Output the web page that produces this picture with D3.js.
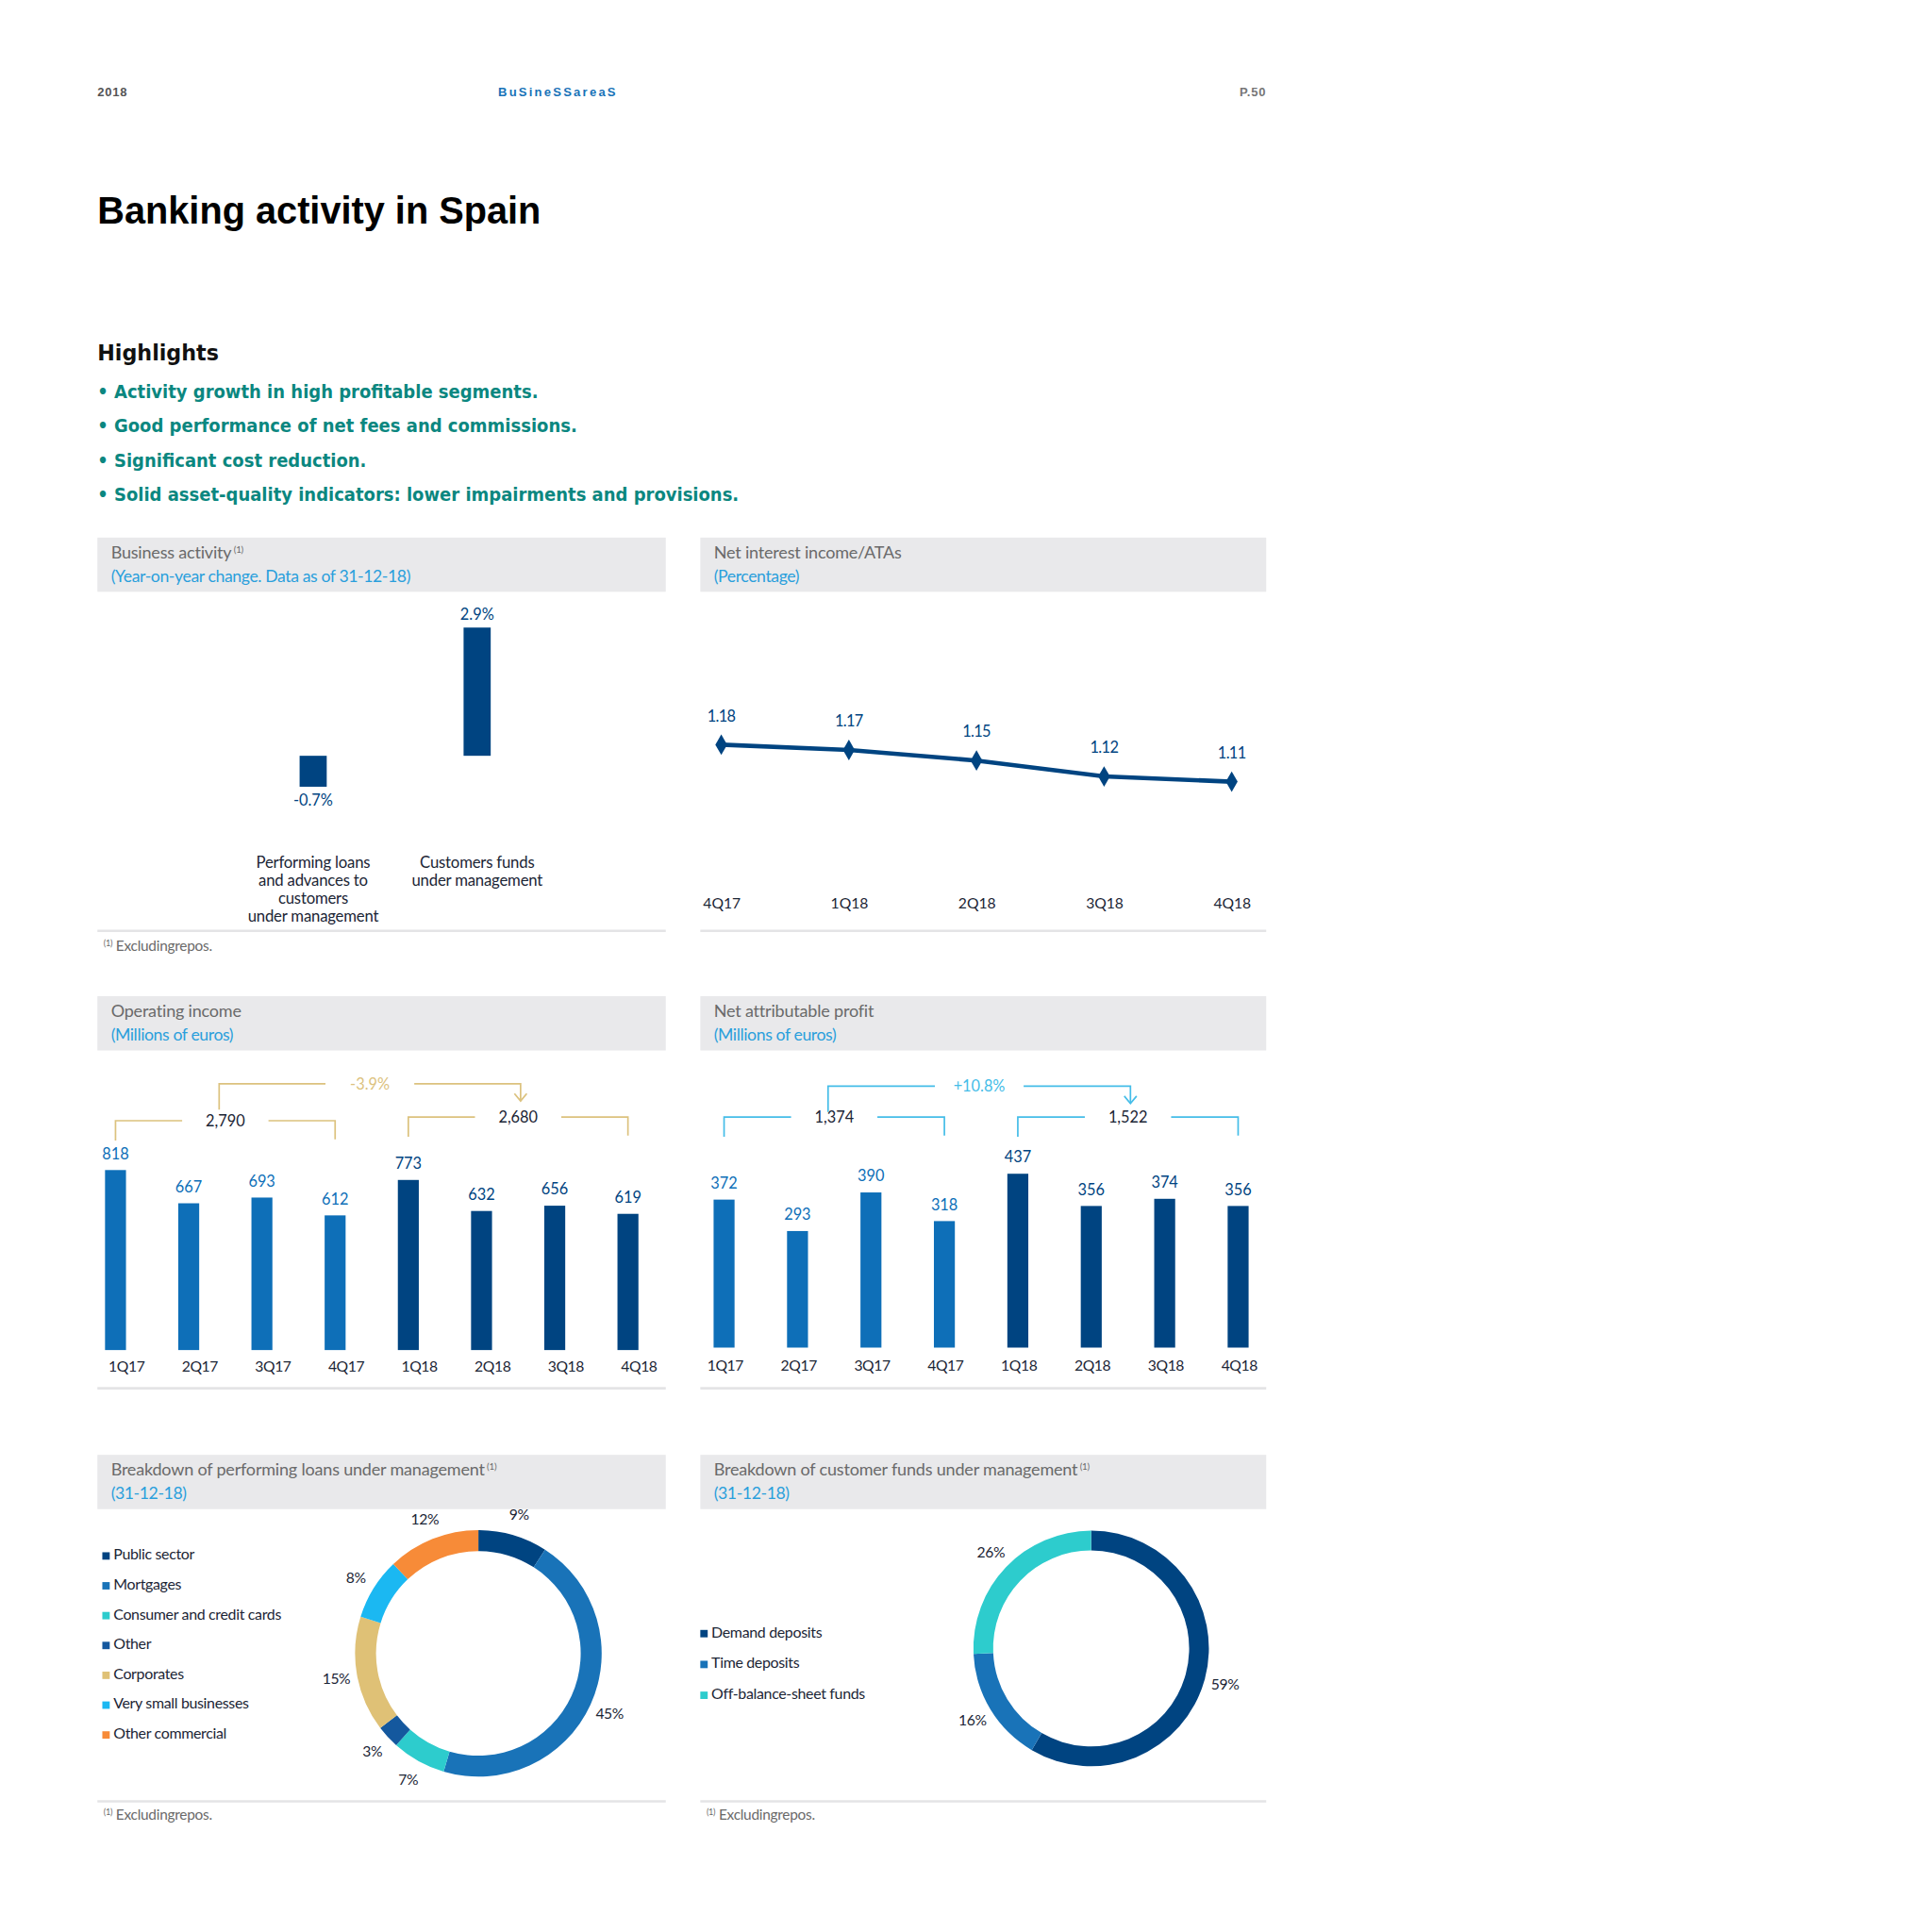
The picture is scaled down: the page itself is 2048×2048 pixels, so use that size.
<!DOCTYPE html>
<html>
<head>
<meta charset="utf-8">
<script src="https://cdn.jsdelivr.net/npm/d3@7"></script>
<style>
  body { margin: 0; background: #fff; overflow: hidden; }
  svg { display: block; }
</style>
</head>
<body>
<script>
// ---- data ----
const highlights = [
  'Activity growth in high profitable segments.',
  'Good performance of net fees and commissions.',
  'Significant cost reduction.',
  'Solid asset-quality indicators: lower impairments and provisions.'
];

const activityLabels = [
  ['Performing loans', 'and advances to', 'customers', 'under management'],
  ['Customers funds', 'under management']
];
const activityValues = [-0.7, 2.9];

const niiQuarters = ['4Q17', '1Q18', '2Q18', '3Q18', '4Q18'];
const niiValues = [1.18, 1.17, 1.15, 1.12, 1.11];

const barQuarters = ['1Q17', '2Q17', '3Q17', '4Q17', '1Q18', '2Q18', '3Q18', '4Q18'];
const operatingIncome = [818, 667, 693, 612, 773, 632, 656, 619];
const operatingTotals = ['2,790', '2,680'];
const operatingChange = '-3.9%';
const netProfit = [372, 293, 390, 318, 437, 356, 374, 356];
const profitTotals = ['1,374', '1,522'];
const profitChange = '+10.8%';

const loanCategories = ['Public sector', 'Mortgages', 'Consumer and credit cards', 'Other',
                        'Corporates', 'Very small businesses', 'Other commercial'];
const loanShares = [9, 45, 7, 3, 15, 8, 12];
const fundCategories = ['Demand deposits', 'Time deposits', 'Off-balance-sheet funds'];
const fundShares = [59, 16, 26];

// ---- styles ----
const NAVY = '#004481';
const MIDBLUE = '#0e6fb8';
const SKY = '#2a9fdc';
const GOLD = '#dcc27e';
const CYAN = '#45bde8';
const TEXT = '#1b2535';
const GREY = '#6a6a6a';
const SANS = 'Lato, "Open Sans", sans-serif';
const loanColors = [NAVY, '#1973b8', '#2dcccd', '#14589e', '#dfc176', '#1bb8f2', '#f78b38'];
const fundColors = [NAVY, '#1973b8', '#2dcccd'];

// layout is worked out on a 1567-unit page, then scaled to the 2048px window
const PAGE = 1567;
const LEFT = {x: 79, w: 461};
const RIGHT = {x: 568, w: 459};

const svg = d3.select('body')
              .append('svg')
              .attr('width', 2048)
              .attr('height', 2048)
              .attr('viewBox', `0 0 ${PAGE} ${PAGE}`)
              .style('font-family', SANS);

// ---- page header ----
svg.append('text').attr('x', 79).attr('y', 78)
   .attr('font-family', '"Liberation Sans", Arial, sans-serif').attr('font-weight', 'bold')
   .attr('font-size', 10).attr('fill', '#555').attr('letter-spacing', 0.6).text('2018');
svg.append('text').attr('x', 404).attr('y', 78)
   .attr('font-family', '"Liberation Sans", Arial, sans-serif').attr('font-weight', 'bold')
   .attr('font-size', 10).attr('fill', '#1973b8').attr('letter-spacing', 1.7).text('BuSineSSareaS');
svg.append('text').attr('x', 1027).attr('y', 78).attr('text-anchor', 'end')
   .attr('font-family', '"Liberation Sans", Arial, sans-serif').attr('font-weight', 'bold')
   .attr('font-size', 10).attr('fill', '#777').attr('letter-spacing', 0.6).text('P.50');

svg.append('text').attr('x', 79).attr('y', 181)
   .attr('font-family', '"Liberation Sans", Arial, sans-serif').attr('font-weight', 'bold')
   .attr('font-size', 30.4).attr('fill', '#000').text('Banking activity in Spain');

svg.append('text').attr('x', 79).attr('y', 292)
   .attr('font-family', '"DejaVu Sans", sans-serif').attr('font-weight', 'bold')
   .attr('font-size', 17).attr('fill', '#111').text('Highlights');

svg.selectAll('text.bullet')
   .data(highlights)
   .enter()
   .append('text')
   .attr('class', 'bullet')
   .attr('x', 79)
   .attr('y', (d, i) => 323 + i * 27.7)
   .attr('font-family', '"DejaVu Sans Condensed", "DejaVu Sans", sans-serif')
   .attr('font-stretch', 'condensed')
   .attr('font-weight', 'bold')
   .attr('font-size', 15.3)
   .attr('fill', '#0b8780')
   .text(d => '•  ' + d);

// ---- helpers ----
const panelHeader = (p, y, title, subtitle, sup) => {
  svg.append('rect').attr('x', p.x).attr('y', y).attr('width', p.w).attr('height', 44).attr('fill', '#e9e9eb');
  const t = svg.append('text').attr('x', p.x + 11).attr('y', y + 17)
               .attr('font-size', 13.8).attr('fill', GREY).attr('letter-spacing', -0.15);
  t.append('tspan').text(title);
  if (sup) t.append('tspan').attr('font-size', 7.5).attr('dy', -5).text(' (1)');
  svg.append('text').attr('x', p.x + 11).attr('y', y + 36)
     .attr('font-size', 13.5).attr('fill', SKY).attr('letter-spacing', -0.3).text(subtitle);
};

const panelRule = (p, y) => {
  svg.append('line').attr('x1', p.x).attr('x2', p.x + p.w).attr('y1', y).attr('y2', y)
     .attr('stroke', '#e4e4e6').attr('stroke-width', 2);
};

const footnote = (p, y) => {
  const t = svg.append('text').attr('x', p.x + 5).attr('y', y)
               .attr('font-size', 11.8).attr('fill', GREY).attr('letter-spacing', -0.2);
  t.append('tspan').attr('font-size', 7).attr('dy', -3.5).text('(1)');
  t.append('tspan').attr('dy', 3.5).text(' Excludingrepos.');
};

// bracket over a group of bars, with a gap in the middle for the label
const bracket = (x0, x1, y, drop0, drop1, label, lineColor, labelColor, gap, arrow) => {
  const mid = (x0 + x1) / 2;
  const g = svg.append('g').attr('fill', 'none').attr('stroke', lineColor).attr('stroke-width', 1.3);
  g.append('path').attr('d', d3.line()([[x0, y + drop0], [x0, y], [mid - gap, y]]));
  g.append('path').attr('d', d3.line()([[mid + gap, y], [x1, y], [x1, y + drop1]]));
  if (arrow) {
    g.append('path').attr('d', d3.line()([[x1 - 5, y + drop1 - 6], [x1, y + drop1], [x1 + 5, y + drop1 - 6]]));
  }
  svg.append('text').attr('x', mid).attr('y', y + 4.5).attr('text-anchor', 'middle')
     .attr('font-size', 12.5).attr('fill', labelColor).text(label);
};

// ---- Business activity ----
panelHeader(LEFT, 436, 'Business activity', '(Year-on-year change. Data as of 31-12-18)', true);

const actX = d3.scalePoint().domain(d3.range(activityValues.length)).range([254, 387]);
const actY = d3.scaleLinear().domain([0, 2.9]).range([613, 509]);

svg.append('g').selectAll('rect')
   .data(activityValues)
   .enter()
   .append('rect')
   .attr('x', (d, i) => actX(i) - 11)
   .attr('y', d => Math.min(actY(d), actY(0)))
   .attr('width', 22)
   .attr('height', d => Math.abs(actY(d) - actY(0)))
   .attr('fill', NAVY);

svg.append('g').selectAll('text')
   .data(activityValues)
   .enter()
   .append('text')
   .attr('x', (d, i) => actX(i))
   .attr('y', d => d >= 0 ? actY(d) - 6 : actY(d) + 15)
   .attr('text-anchor', 'middle')
   .attr('font-size', 12.5)
   .attr('fill', NAVY)
   .text(d => `${d.toFixed(1)}%`);

activityLabels.forEach((lines, i) => {
  const t = svg.append('text').attr('text-anchor', 'middle').attr('font-size', 12.8)
               .attr('fill', TEXT).attr('letter-spacing', -0.15);
  lines.forEach((l, j) => {
    t.append('tspan').attr('x', actX(i)).attr('y', 704 + j * 14.6).text(l);
  });
});

panelRule(LEFT, 755);
footnote(LEFT, 771);

// ---- Net interest income / ATAs ----
panelHeader(RIGHT, 436, 'Net interest income/ATAs', '(Percentage)', false);

const niiX = d3.scalePoint().domain(niiQuarters).range([585, 999]);
const niiY = d3.scaleLinear().domain([1.11, 1.18]).range([634, 604]);

svg.append('path')
   .datum(niiValues)
   .attr('d', d3.line().x((d, i) => niiX(niiQuarters[i])).y(d => niiY(d)))
   .attr('fill', 'none')
   .attr('stroke', NAVY)
   .attr('stroke-width', 3.5);

svg.append('g').selectAll('path')
   .data(niiValues)
   .enter()
   .append('path')
   .attr('d', d3.symbol(d3.symbolDiamond, 80))
   .attr('transform', (d, i) => `translate(${niiX(niiQuarters[i])},${niiY(d)})`)
   .attr('fill', NAVY);

svg.append('g').selectAll('text')
   .data(niiValues)
   .enter()
   .append('text')
   .attr('x', (d, i) => niiX(niiQuarters[i]))
   .attr('y', d => niiY(d) - 19)
   .attr('text-anchor', 'middle')
   .attr('font-size', 12.5)
   .attr('fill', NAVY)
   .attr('letter-spacing', -0.5)
   .text(d => d.toFixed(2));

const niiAxis = svg.append('g')
   .attr('transform', 'translate(0, 728)')
   .call(d3.axisBottom(niiX).tickSize(0).tickPadding(0));
niiAxis.select('.domain').remove();
niiAxis.selectAll('text').attr('font-size', 12).attr('font-family', SANS).attr('fill', TEXT).attr('dy', '0.71em');

panelRule(RIGHT, 755);

// ---- quarterly bar charts ----
const quarterBars = (p, range, values, yTop, base, axisY, axisShift, totals, change, lineColor, changeColor, brY, topY) => {
  const x = d3.scaleBand().domain(barQuarters).range(range);
  const cx = q => x(q) + x.bandwidth() / 2;
  const y = d3.scaleLinear().domain([0, d3.max(values)]).range([base, yTop]);
  const colour = q => q.endsWith('17') ? MIDBLUE : NAVY;

  svg.append('g').selectAll('rect')
     .data(values)
     .enter()
     .append('rect')
     .attr('x', (d, i) => cx(barQuarters[i]) - 8.5)
     .attr('y', d => y(d))
     .attr('width', 17)
     .attr('height', d => base - y(d))
     .attr('fill', (d, i) => colour(barQuarters[i]));

  svg.append('g').selectAll('text')
     .data(values)
     .enter()
     .append('text')
     .attr('x', (d, i) => cx(barQuarters[i]))
     .attr('y', d => y(d) - 9)
     .attr('text-anchor', 'middle')
     .attr('font-size', 12.5)
     .attr('fill', (d, i) => colour(barQuarters[i]))
     .text(d => d);

  // the reference sets its quarter labels slightly right of the bars in one chart
  const ax = svg.append('g')
     .attr('transform', `translate(${axisShift}, ${axisY})`)
     .call(d3.axisBottom(x).tickSize(0).tickPadding(0));
  ax.select('.domain').remove();
  ax.selectAll('text').attr('font-size', 12).attr('font-family', SANS).attr('fill', TEXT)
    .attr('dy', '0.71em').attr('letter-spacing', -0.3);

  const groups = [barQuarters.slice(0, 4), barQuarters.slice(4)];
  const mids = groups.map((grp, i) => {
    const x0 = cx(grp[0]);
    const x1 = cx(grp[grp.length - 1]);
    bracket(x0, x1, brY[i], 16, 15, totals[i], lineColor, TEXT, 35, false);
    return (x0 + x1) / 2;
  });
  bracket(mids[0] - 5, mids[1] + 2, topY, 21, 14, change, lineColor, changeColor, 36, true);
};

panelHeader(LEFT, 808, 'Operating income', '(Millions of euros)', false);
quarterBars(LEFT, [64, 539], operatingIncome, 949, 1095, 1104, 9,
            operatingTotals, operatingChange, GOLD, GOLD, [909, 906], 879);
panelRule(LEFT, 1126);

panelHeader(RIGHT, 808, 'Net attributable profit', '(Millions of euros)', false);
quarterBars(RIGHT, [557.5, 1034], netProfit, 952, 1093, 1103, 1,
            profitTotals, profitChange, CYAN, CYAN, [906, 906], 881);
panelRule(RIGHT, 1126);

// ---- donuts ----
const donut = (p, cx, cy, r, thick, shares, colors, categories, legendX, legendY, legendStep) => {
  const pie = d3.pie().sort(null).value(d => d);
  const arcs = pie(shares);
  const arc = d3.arc().innerRadius(r - thick).outerRadius(r);
  const labelArc = d3.arc().innerRadius(r + 17).outerRadius(r + 17);
  const g = svg.append('g').attr('transform', `translate(${cx},${cy})`);

  g.selectAll('path')
   .data(arcs)
   .enter()
   .append('path')
   .attr('d', arc)
   .attr('fill', (d, i) => colors[i]);

  g.selectAll('text')
   .data(arcs)
   .enter()
   .append('text')
   .attr('transform', d => `translate(${labelArc.centroid(d)})`)
   .attr('dy', '0.35em')
   .attr('text-anchor', 'middle')
   .attr('font-size', 12)
   .attr('fill', TEXT)
   .attr('letter-spacing', -0.3)
   .text(d => `${d.data}%`);

  const lg = svg.append('g').selectAll('g')
     .data(categories)
     .enter()
     .append('g')
     .attr('transform', (d, i) => `translate(${legendX}, ${legendY + i * legendStep})`);
  lg.append('rect').attr('x', 0).attr('y', -6).attr('width', 6).attr('height', 6)
    .attr('fill', (d, i) => colors[i]);
  lg.append('text').attr('x', 9).attr('y', 0).attr('font-size', 12.2).attr('fill', TEXT)
    .attr('letter-spacing', -0.25).text(d => d);
};

panelHeader(LEFT, 1180, 'Breakdown of performing loans under management', '(31-12-18)', true);
donut(LEFT, 388, 1341, 100, 17, loanShares, loanColors, loanCategories, 83, 1265, 24.2);
panelRule(LEFT, 1461);
footnote(LEFT, 1476);

panelHeader(RIGHT, 1180, 'Breakdown of customer funds under management', '(31-12-18)', true);
donut(RIGHT, 885, 1337, 95.5, 16, fundShares, fundColors, fundCategories, 568, 1328, 25);
panelRule(RIGHT, 1461);
footnote(RIGHT, 1476);
</script>
</body>
</html>
